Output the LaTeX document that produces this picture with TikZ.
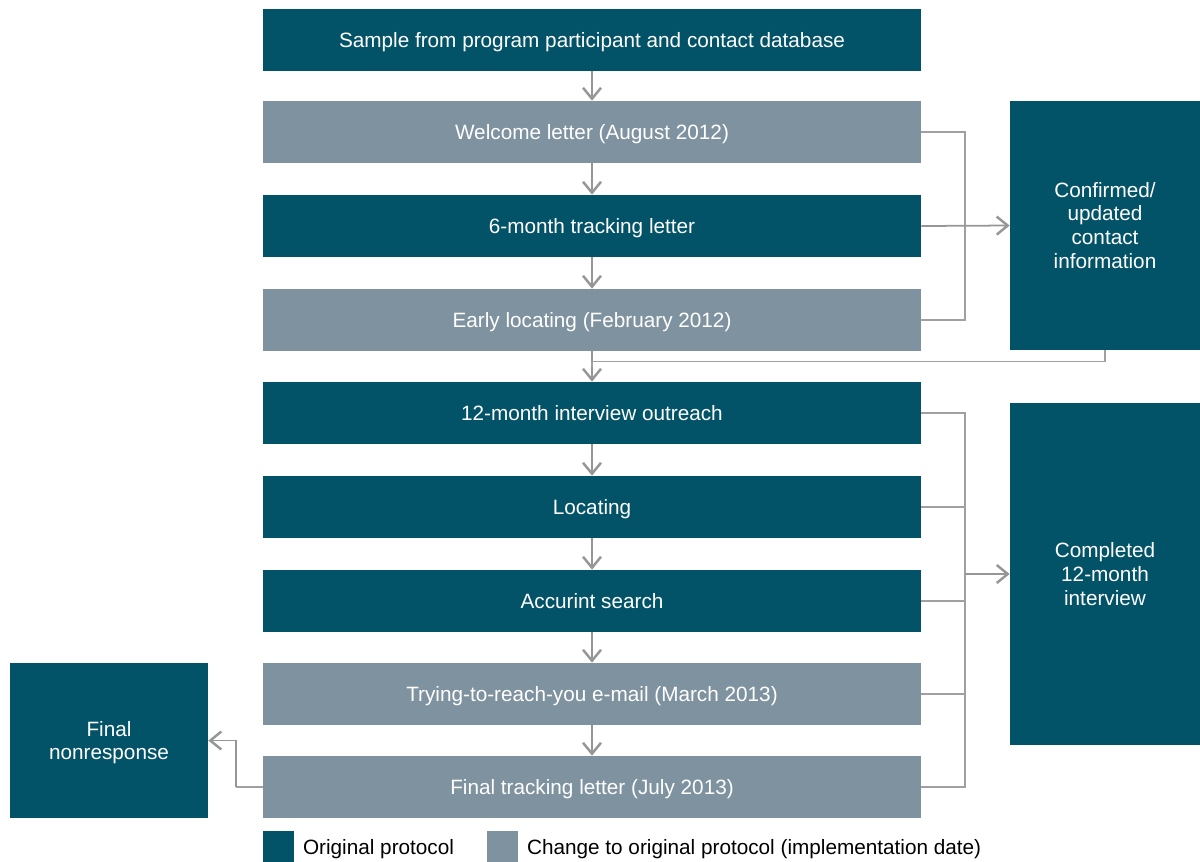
\documentclass[tikz,border=0pt]{standalone}
\usepackage{fontspec}
\setmainfont{Liberation Sans}
\usetikzlibrary{arrows.meta,positioning,calc}
\definecolor{origteal}{RGB}{3,83,104}
\definecolor{changegrey}{RGB}{127,146,160}
\definecolor{linkgrey}{RGB}{160,160,160}
\definecolor{tipgrey}{RGB}{150,150,150}

\begin{document}
\begin{tikzpicture}[font=\fontsize{11.8}{13.6}\selectfont,
  stage/.style={draw=none,text=white,minimum width=13.16cm,minimum height=1.24cm,inner sep=0pt,align=center,text depth=0pt},
  orig/.style={stage,fill=origteal},
  chg/.style={stage,fill=changegrey},
  outcome/.style={fill=origteal,text=white,minimum width=3.8cm,inner sep=0pt,align=center},
  link/.style={linkgrey,line width=0.7pt},
  arr/.style={-{Straight Barb[length=2.2mm,width=3.6mm,line width=1.4pt]},tipgrey,line width=1pt}]
\useasboundingbox (0,0) rectangle (24,-17.22);
% main column
\node[orig] (sample) at (11.84,-0.8) {Sample from program participant and contact database};
\node[chg] (welcome) at (11.84,-2.64) {Welcome letter (August 2012)};
\node[orig] (track6) at (11.84,-4.52) {6-month tracking letter};
\node[chg] (early) at (11.84,-6.4) {Early locating (February 2012)};
\node[orig] (outreach) at (11.84,-8.26) {12-month interview outreach};
\node[orig] (locating) at (11.84,-10.14) {Locating};
\node[orig] (accurint) at (11.84,-12.02) {Accurint search};
\node[chg] (tryreach) at (11.84,-13.88) {Trying-to-reach-you e-mail (March 2013)};
\node[chg] (finalletter) at (11.84,-15.74) {Final tracking letter (July 2013)};
% outcomes
\node[outcome,minimum height=4.98cm] (contact) at (22.1,-4.51) {Confirmed/\\updated\\contact\\information};
\node[outcome,minimum height=6.84cm] (completed) at (22.1,-11.48) {Completed\\12-month\\interview};
\node[outcome,minimum width=3.96cm,minimum height=3.1cm,text depth=0pt] (nonresp) at (2.18,-14.81) {Final\\nonresponse};
% arrows down the column
\draw[arr] (sample) -- (welcome);
\draw[arr] (welcome) -- (track6);
\draw[arr] (track6) -- (early);
\draw[arr] (early) -- (outreach);
\draw[arr] (outreach) -- (locating);
\draw[arr] (locating) -- (accurint);
\draw[arr] (accurint) -- (tryreach);
\draw[arr] (tryreach) -- (finalletter);
% contact information bracket
\coordinate (busA) at (19.3,-4.52);
\draw[link] (welcome.east) -| (busA) |- (early.east);
\draw[arr] (track6.east) -- (contact.west);
\draw[link] (contact.south) -- ++(0,-0.22) -| ($(early.south)!0.5!(outreach.north)$);
% completed interview bracket
\coordinate (busB) at (19.3,-11.48);
\draw[link] (outreach.east) -| (busB) |- (finalletter.east);
\foreach \n in {locating,accurint,tryreach}
  \draw[link] (\n.east) -- (\n.east -| busB);
\draw[arr] (busB) -- (completed.west);
% nonresponse
\draw[link] (finalletter.west) -- ++(-0.54,0) coordinate (nrbend);
\draw[arr] (nrbend) |- (nonresp.east);
% legend
\node[fill=origteal,minimum size=0.62cm,inner sep=0pt,anchor=north west] (keyorig) at (5.26,-16.62) {};
\node[right=0.16cm of keyorig,inner sep=0pt,yshift=-0.05cm] (keyorigtxt) {Original protocol};
\node[fill=changegrey,minimum size=0.62cm,inner sep=0pt,anchor=north west] (keychg) at (9.74,-16.62) {};
\node[right=0.16cm of keychg,inner sep=0pt,yshift=-0.05cm] (keychgtxt) {Change to original protocol (implementation date)};
\end{tikzpicture}
\end{document}
